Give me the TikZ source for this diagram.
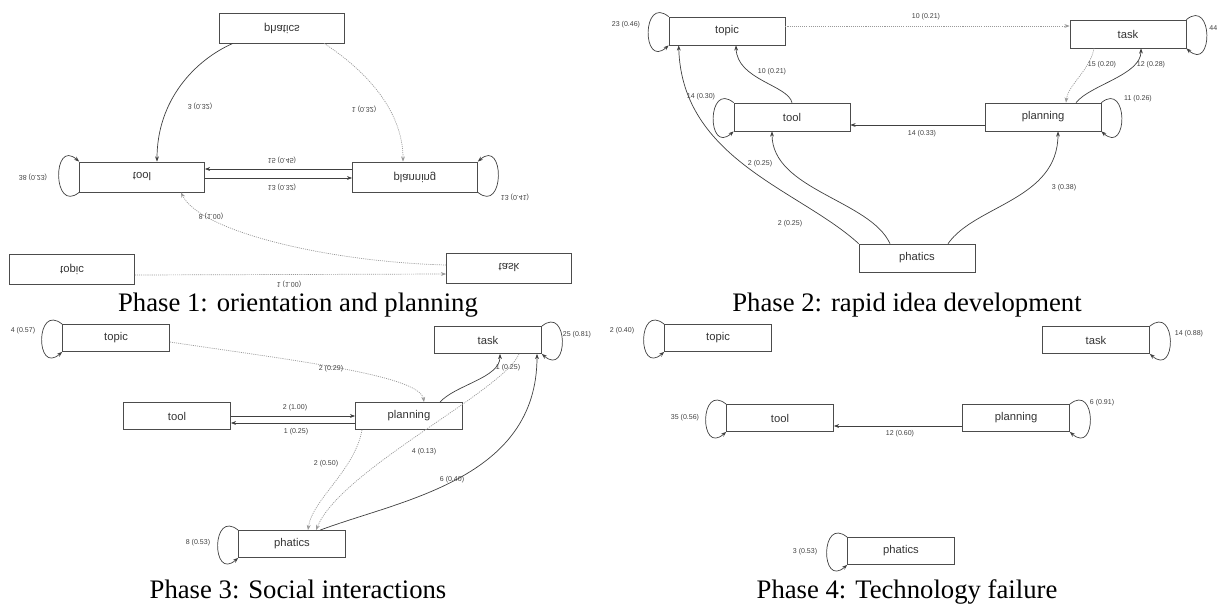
\documentclass[tikz,border=0pt]{standalone}
\usepackage{fontspec}
\setmainfont{Liberation Serif}
\newfontfamily\diagfont{Liberation Sans}
\usepackage{graphicx}
\usetikzlibrary{arrows.meta,calc}
\newcommand{\flipv}[1]{\scalebox{1}[-1]{#1}}

\begin{document}
\begin{tikzpicture}[
  x=0.02cm, y=-0.02cm,
  box/.style={draw=black!70, line width=0.4pt, inner sep=0pt, text=black!80, font=\diagfont\fontsize{6.4}{7}\selectfont},
  lbl/.style={inner sep=0pt, text=black!75, font=\diagfont\fontsize{4}{5}\selectfont},
  arrow/.style={-{Stealth[length=3pt,width=2.2pt]}, draw=black!75, line width=0.4pt},
  faint/.style={arrow, draw=black!40, dash pattern=on 0.6pt off 0.6pt},
  selfleft/.style={to path={.. controls +(-27,-22) and +(-27,24) .. (\tikztotarget)}},
  selfright/.style={to path={.. controls +(27,-22) and +(27,24) .. (\tikztotarget)}},
  caption/.style={inner sep=0pt, font=\fontsize{15.2}{18}\selectfont}
]
\useasboundingbox (0,0) rectangle (1219,608);

% Phase 1 (printed upside down)
\begin{scope}[box/.append style={minimum width=2.5cm, minimum height=0.6cm}]
\clip (0,0) rectangle (572,300);
\node[box] (phat1) at (282,28) {\flipv{phatics}};
\node[box] (tool1) at (142,177) {\flipv{tool}};
\node[box] (plan1) at (415,177) {\flipv{planning}};
\node[box] (topic1) at (72,269) {\flipv{topic}};
\node[box] (task1) at (509,268) {\flipv{task}};

\draw[arrow] ($(phat1.south)+(-49,0)$) .. controls (195,60) and (157,100) .. ($(tool1.north)+(15,0)$);
\draw[faint] ($(phat1.south)+(42,0)$) .. controls (365,70) and (403,110) .. ($(plan1.north)+(-12,0)$);
\draw[arrow] ($(plan1.west)+(0,-8)$) -- ($(tool1.east)+(0,-8)$);
\draw[arrow] ($(tool1.east)+(0,1)$) -- ($(plan1.west)+(0,1)$);
\draw[arrow] (tool1.south west) .. controls +(-27,22) and +(-27,-24) .. (tool1.north west);
\draw[arrow] (plan1.south east) .. controls +(27,22) and +(27,-24) .. (plan1.north east);
\draw[faint] ($(task1.west)+(0,-3)$) .. controls (330,262) and (200,232) .. ($(tool1.south)+(39,0)$);
\draw[faint] ($(topic1.east)+(0,6)$) -- ($(task1.west)+(0,6)$);

\node[lbl] (l1a) at (200,106) {\flipv{3 (0.32)}};
\node[lbl] (l1b) at (364,109) {\flipv{1 (0.32)}};
\node[lbl] (l1c) at (282,160) {\flipv{15 (0.45)}};
\node[lbl] (l1d) at (282,187) {\flipv{13 (0.32)}};
\node[lbl] (l1e) at (33,177) {\flipv{38 (0.23)}};
\node[lbl] (l1f) at (515,197) {\flipv{13 (0.41)}};
\node[lbl] (l1g) at (211,216) {\flipv{8 (1.00)}};
\node[lbl] (l1h) at (289,284) {\flipv{1 (1.00)}};
\end{scope}

% Phase 2
\begin{scope}[box/.append style={minimum width=2.32cm, minimum height=0.56cm}]
\node[box] (topic2) at (727,31) {topic};
\node[box] (task2) at (1128,34) {task};
\node[box] (tool2) at (792,117) {tool};
\node[box] (plan2) at (1043,117) {planning};
\node[box] (phat2) at (917,258) {phatics};

\draw[arrow] (topic2.north west) to[selfleft] (topic2.south west);
\draw[arrow] (task2.north east) to[selfright] (task2.south east);
\draw[arrow] (tool2.north west) to[selfleft] (tool2.south west);
\draw[arrow] (plan2.north east) to[selfright] (plan2.south east);
\draw[faint] ($(topic2.east)+(0,-5)$) -- ($(task2.west)+(0,-8)$);
\draw[arrow] (tool2.north) .. controls (788,85) and (737,80) .. ($(topic2.south)+(9,0)$);
\draw[arrow] ($(plan2.west)+(0,8)$) -- ($(tool2.east)+(0,8)$);
\draw[faint] ($(task2.south)+(-34,0)$) .. controls (1090,70) and (1068,85) .. ($(plan2.north)+(23,0)$);
\draw[arrow] ($(plan2.north)+(33,0)$) .. controls (1090,85) and (1141,75) .. ($(task2.south)+(13,0)$);
\draw[arrow] (phat2.north west) .. controls (800,190) and (682,160) .. ($(topic2.south west)+(10,0)$);
\draw[arrow] ($(phat2.north)+(-27,0)$) .. controls (870,200) and (772,190) .. ($(tool2.south)+(-20,0)$);
\draw[arrow] ($(phat2.north)+(31,0)$) .. controls (975,205) and (1058,200) .. ($(plan2.south)+(15,0)$);

\node[lbl] (l2a) at (626,25) {23 (0.46)};
\node[lbl] (l2b) at (926,17) {10 (0.21)};
\node[lbl, anchor=west] (l2c) at (1209,28) {44};
\node[lbl] (l2d) at (772,72) {10 (0.21)};
\node[lbl] (l2e) at (701,97) {14 (0.30)};
\node[lbl] (l2f) at (1102,65) {15 (0.20)};
\node[lbl] (l2g) at (1151,65) {12 (0.28)};
\node[lbl] (l2h) at (1138,99) {11 (0.26)};
\node[lbl] (l2i) at (922,134) {14 (0.33)};
\node[lbl] (l2j) at (760,164) {2 (0.25)};
\node[lbl] (l2k) at (1064,188) {3 (0.38)};
\node[lbl] (l2l) at (790,224) {2 (0.25)};
\end{scope}

% Phase 3
\begin{scope}[box/.append style={minimum width=2.14cm, minimum height=0.54cm}]
\node[box] (topic3) at (116,338) {topic};
\node[box] (task3) at (488,340) {task};
\node[box] (tool3) at (177,416) {tool};
\node[box] (plan3) at (409,416) {planning};
\node[box] (phat3) at (292,544) {phatics};

\draw[arrow] (topic3.north west) to[selfleft] (topic3.south west);
\draw[arrow] (task3.north east) to[selfright] (task3.south east);
\draw[arrow] (phat3.north west) to[selfleft] (phat3.south west);
\draw[faint] ($(topic3.east)+(0,4)$) .. controls (290,360) and (420,375) .. ($(plan3.north)+(15,0)$);
\draw[arrow] (tool3.east) -- (plan3.west);
\draw[arrow] ($(plan3.west)+(0,7)$) -- ($(tool3.east)+(0,7)$);
\draw[arrow] ($(plan3.north)+(31,0)$) .. controls (455,385) and (500,378) .. ($(task3.south)+(12,0)$);
\draw[faint] ($(plan3.south)+(-47,0)$) .. controls (355,470) and (312,500) .. ($(phat3.north)+(16,0)$);
\draw[faint] ($(task3.south)+(31,0)$) .. controls (505,390) and (340,470) .. ($(phat3.north)+(24,0)$);
\draw[arrow] ($(phat3.north)+(28,0)$) .. controls (400,500) and (537,480) .. ($(task3.south)+(49,0)$);

\node[lbl] (l3a) at (23,331) {4 (0.57)};
\node[lbl] (l3b) at (577,335) {25 (0.81)};
\node[lbl] (l3c) at (331,369) {2 (0.29)};
\node[lbl] (l3d) at (508,368) {1 (0.25)};
\node[lbl] (l3e) at (295,408) {2 (1.00)};
\node[lbl] (l3f) at (296,432) {1 (0.25)};
\node[lbl] (l3g) at (424,452) {4 (0.13)};
\node[lbl] (l3h) at (326,464) {2 (0.50)};
\node[lbl] (l3i) at (452,480) {6 (0.40)};
\node[lbl] (l3j) at (198,543) {8 (0.53)};
\end{scope}

% Phase 4
\begin{scope}[box/.append style={minimum width=2.14cm, minimum height=0.54cm}]
\node[box] (topic4) at (718,338) {topic};
\node[box] (task4) at (1096,340) {task};
\node[box] (tool4) at (780,418) {tool};
\node[box] (plan4) at (1016,418) {planning};
\node[box] (phat4) at (901,551) {phatics};

\draw[arrow] (topic4.north west) to[selfleft] (topic4.south west);
\draw[arrow] (task4.north east) to[selfright] (task4.south east);
\draw[arrow] (tool4.north west) to[selfleft] (tool4.south west);
\draw[arrow] (plan4.north east) to[selfright] (plan4.south east);
\draw[arrow] (phat4.north west) to[selfleft] (phat4.south west);
\draw[arrow] ($(plan4.west)+(0,8)$) -- ($(tool4.east)+(0,8)$);

\node[lbl] (l4a) at (622,331) {2 (0.40)};
\node[lbl] (l4b) at (1189,334) {14 (0.88)};
\node[lbl] (l4c) at (685,418) {35 (0.56)};
\node[lbl] (l4d) at (1102,403) {6 (0.91)};
\node[lbl] (l4e) at (900,434) {12 (0.60)};
\node[lbl] (l4f) at (805,552) {3 (0.53)};
\end{scope}

\node[caption, anchor=base] (cap1) at (298,311) {Phase 1: orientation and planning};
\node[caption, anchor=base] (cap2) at (907,311) {Phase 2: rapid idea development};
\node[caption, anchor=base] (cap3) at (298,598) {Phase 3: Social interactions};
\node[caption, anchor=base] (cap4) at (907,598) {Phase 4: Technology failure};

\end{tikzpicture}
\end{document}
